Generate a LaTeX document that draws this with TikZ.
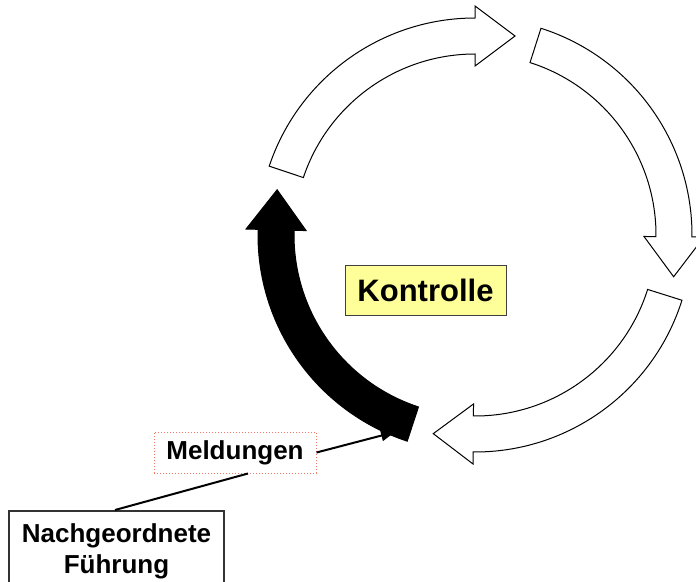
\documentclass[tikz,border=0pt]{standalone}
\usepackage{fontspec}
\setmainfont{Liberation Sans}
\usetikzlibrary{calc,arrows.meta}
\definecolor{boxyellow}{RGB}{255,255,153}
\definecolor{dotred}{RGB}{240,120,100}
\newcommand\ringarrow[3]{% #1 style, #2 tail angle, #3 head-base angle
  \path[#1] ($(c)+(#2:217)$) arc[start angle=#2,end angle=#3,radius=217]
    -- ($(c)+(#3:229)$) -- ($(c)+(#3:199)+(#3-90:40)$) -- ($(c)+(#3:169)$)
    -- ($(c)+(#3:181)$) arc[start angle=#3,end angle=#2,radius=181] -- cycle;}
\begin{document}
\begin{tikzpicture}[x=1pt,y=1pt,
  openarrow/.style={draw=black,line width=1pt,fill=white,line join=miter},
  solidarrow/.style={draw=black,line width=1pt,fill=black,line join=miter},
  conn/.style={line width=2pt,black},
  kbox/.style={draw=black!75,line width=1pt,fill=boxyellow,minimum width=161pt,minimum height=50pt,inner sep=0pt,font=\fontsize{31}{36}\selectfont\bfseries},
  mbox/.style={draw=dotred,dotted,line width=1pt,minimum width=162pt,minimum height=41pt,inner sep=0pt,font=\fontsize{26}{31}\selectfont\bfseries},
  nbox/.style={draw=black!80,line width=1.5pt,fill=white,text width=191pt,align=center,inner xsep=12pt,inner ysep=13pt,font=\fontsize{26}{31}\selectfont\bfseries}]
\useasboundingbox (0,0) rectangle (696,-581);
\clip (0,0) rectangle (696,-581);
\coordinate (c) at (475,-235);
\ringarrow{openarrow}{161.5}{90}
\ringarrow{openarrow}{72.3}{-0.5}
\ringarrow{openarrow}{-17.5}{-90.5}
\ringarrow{solidarrow}{-108.2}{-181.5}
\node[kbox] (k) at (425.5,-290) {Kontrolle};
\node[mbox] (mel) at (235,-452.5) {Meldungen};
\node[nbox,anchor=north] (nf) at (116.5,-510) {Nachgeordnete\\Führung};
\coordinate (tipM) at (395,-432);
\draw[conn] ([xshift=-1.5pt]nf.north) -- ([xshift=13pt]mel.south);
\draw[conn,-{Triangle[length=14pt,width=11pt]}] (mel.east) -- (tipM);
\end{tikzpicture}
\end{document}
